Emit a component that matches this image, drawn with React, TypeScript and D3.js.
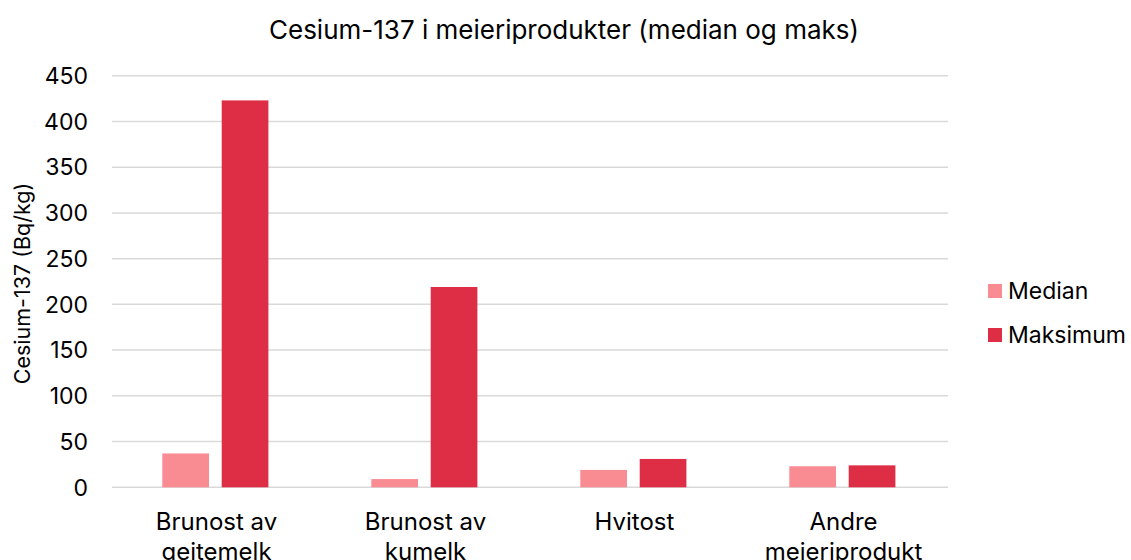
import React from "react";
import * as d3 from "d3";

const categories: string[][] = [
  ["Brunost av", "geitemelk"],
  ["Brunost av", "kumelk"],
  ["Hvitost"],
  ["Andre", "meieriprodukt"],
];
const seriesNames = ["Median", "Maksimum"];
const medianValues = [37, 9, 19, 23];
const maxValues = [423, 219, 31, 24];
const yTicks = [0, 50, 100, 150, 200, 250, 300, 350, 400, 450];
const colors = ["#F98B93", "#DE2E45"];

const W = 1131;
const H = 560;
const FONT = "Inter, 'Noto Sans', sans-serif";

export default function App() {
  const left = 112;
  const right = 948;
  const top = 75.7;
  const bottom = 487.3;
  const x = d3
    .scaleBand<number>()
    .domain(d3.range(categories.length))
    .range([left, right])
    .paddingInner(0)
    .paddingOuter(0);
  const inner = d3
    .scaleBand<number>()
    .domain([0, 1])
    .range([50.3, 50.3 + 46.7 * 2 + 12.7])
    .paddingInner(12.7 / (46.7 + 12.7))
    .paddingOuter(0);
  const y = d3.scaleLinear().domain([0, 450]).range([bottom, top]);
  const series = [medianValues, maxValues];

  return (
    <svg width={W} height={H} style={{ display: "block", position: "absolute", left: 0, top: 0 }}>
      <rect width={W} height={H} fill="#fff" />
      <text x={564} y={39} textAnchor="middle" fontFamily={FONT} fontSize={26} fill="#000">
        Cesium-137 i meieriprodukter (median og maks)
      </text>
      {yTicks.map((t) => (
        <g key={t}>
          <line x1={left} x2={right} y1={y(t)} y2={y(t)} stroke="#d9d9d9" strokeWidth={1.5} />
          <text x={88} y={y(t)} dy="0.36em" textAnchor="end" fontFamily={FONT} fontSize={23} fill="#000">
            {t}
          </text>
        </g>
      ))}
      <text
        transform={`translate(30,${(top + bottom) / 2 + 2}) rotate(-90)`}
        textAnchor="middle"
        fontFamily={FONT}
        fontSize={21.5}
        fill="#000"
      >
        Cesium-137 (Bq/kg)
      </text>
      {series.map((vals, si) =>
        vals.map((v, ci) => (
          <rect
            key={`${si}-${ci}`}
            x={(x(ci) as number) + (inner(si) as number)}
            y={y(v)}
            width={inner.bandwidth()}
            height={bottom - y(v)}
            fill={colors[si]}
          />
        ))
      )}
      {categories.map((lines, ci) => (
        <text
          key={ci}
          x={(x(ci) as number) + x.bandwidth() / 2}
          y={530}
          textAnchor="middle"
          fontFamily={FONT}
          fontSize={24}
          fill="#000"
        >
          {lines.map((l, li) => (
            <tspan key={li} x={(x(ci) as number) + x.bandwidth() / 2} dy={li === 0 ? 0 : 30}>
              {l}
            </tspan>
          ))}
        </text>
      ))}
      {seriesNames.map((n, i) => (
        <g key={n} transform={`translate(988,${291 + i * 44})`}>
          <rect x={0} y={-7} width={14} height={14} fill={colors[i]} />
          <text x={20} y={0} dy="0.36em" fontFamily={FONT} fontSize={23} fill="#000">
            {n}
          </text>
        </g>
      ))}
    </svg>
  );
}
